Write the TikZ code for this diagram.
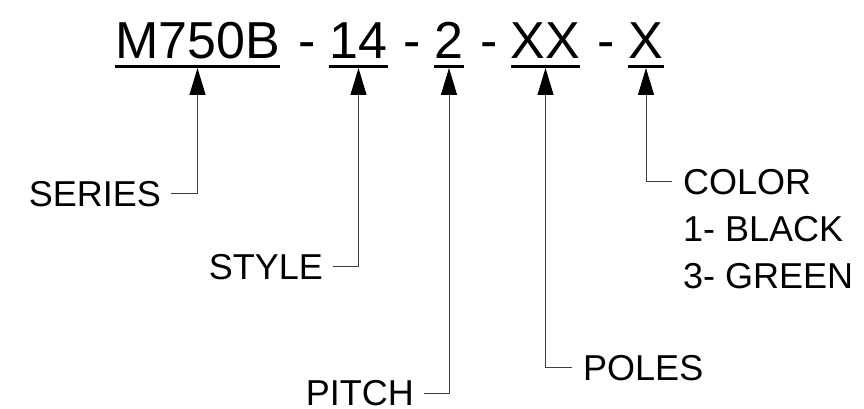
\documentclass[tikz,border=0pt]{standalone}
\usepackage{fontspec}
\setmainfont{Liberation Sans}
\usetikzlibrary{arrows.meta}
\tikzset{
  part/.style={inner sep=0pt, anchor=base, font=\fontsize{52}{60}\selectfont},
  lbl/.style={inner sep=0pt, font=\fontsize{36}{44}\selectfont},
  uline/.style={line width=3pt},
  lead/.style={draw=black!75, line width=1pt, -{Triangle[length=27pt,width=16pt,black]}},
}
\begin{document}
\begin{tikzpicture}[x=1pt,y=-1pt]
\useasboundingbox (0,0) rectangle (864,409);
% part number
\node at (197.5,59) (pser) [part] {M750B};
\node at (307.5,59) (d1) [part] {-};
\node at (358.5,59) (psty) [part] {14};
\node at (412,59) (d2) [part] {-};
\node at (449,59) (ppit) [part] {2};
\node at (489.5,59) (d3) [part] {-};
\node at (545.5,59) (ppol) [part] {XX};
\node at (606,59) (d4) [part] {-};
\node at (646,59) (pcol) [part] {X};
\foreach \p in {pser,psty,ppit,ppol,pcol}
  \draw[uline] ([yshift=-7.5pt]\p.base west) -- ([yshift=-7.5pt]\p.base east);
% labels
\node at (161,206) (lser) [lbl, anchor=base east] {SERIES};
\node at (323,279) (lsty) [lbl, anchor=base east] {STYLE};
\node at (414,405.5) (lpit) [lbl, anchor=base east] {PITCH};
\node at (583,380) (lpol) [lbl, anchor=base west] {POLES};
\node at (683,194) (lcol) [lbl, anchor=base west] {COLOR};
\node at (683,241) (lblk) [lbl, anchor=base west] {1- BLACK};
\node at (683,288) (lgrn) [lbl, anchor=base west] {3- GREEN};
% leaders
\draw[lead] ([xshift=10pt]lser.east) -| ([yshift=-9pt]pser.base);
\draw[lead] ([xshift=10pt]lsty.east) -| ([yshift=-9pt]psty.base);
\draw[lead] ([xshift=10pt]lpit.east) -| ([yshift=-9pt]ppit.base);
\draw[lead] ([xshift=-11pt]lpol.west) -| ([yshift=-9pt]ppol.base);
\draw[lead] ([xshift=-11pt]lcol.west) -| ([yshift=-9pt]pcol.base);
\end{tikzpicture}
\end{document}
